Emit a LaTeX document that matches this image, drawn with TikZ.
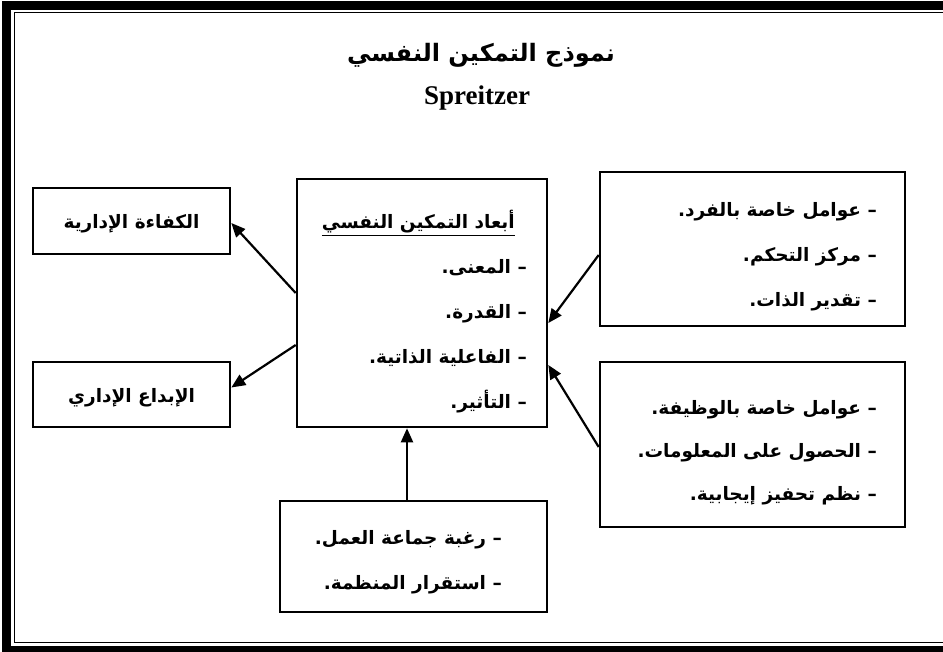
\documentclass[tikz,border=0pt]{standalone}
\usepackage{fontspec}
\usetikzlibrary{arrows.meta}
\TeXXeTstate=1
\newfontfamily\arabicfont[Script=Arabic]{DejaVu Sans}
\newfontfamily\latinserif{Liberation Serif}
\newcommand{\rtl}[1]{\beginR #1\endR}
\newcommand{\lowered}[1]{\raisebox{-3pt}[\height][\depth]{#1}}
\begin{document}
\begin{tikzpicture}[x=1pt,y=-1pt,
  box/.style={draw, line width=2.6pt, inner sep=0pt,
    font=\arabicfont\bfseries\fontsize{18.5}{45}\selectfont},
  list/.style={inner sep=0pt, align=right, anchor=east,
    font=\arabicfont\bfseries\fontsize{18.5}{45}\selectfont},
  link/.style={line width=2.2pt, -{Triangle[length=14pt,width=12pt]}},
]
\useasboundingbox (0,0) rectangle (943,651);
\fill[white] (0,0) rectangle (943,651);
% double frame
\draw[line width=9pt] (6.5,5.5) rectangle (952,650.5);
\draw[line width=1.5pt] (14.5,12.5) rectangle (946,642.5);

% heading
\node[anchor=base] (title) at (481,61) {\arabicfont\bfseries\fontsize{24}{28}\selectfont\rtl{نموذج التمكين النفسي}};
\node[anchor=base] (author) at (477,104) {\latinserif\bfseries\fontsize{27}{30}\selectfont Spreitzer};

% outcomes
\node[box, minimum width=197pt, minimum height=66pt] (kafaa) at (131.5,221) {\lowered{\rtl{الكفاءة الإدارية}}};
\node[box, minimum width=197pt, minimum height=65pt] (ibdaa) at (131.5,394.5) {\lowered{\rtl{الإبداع الإداري}}};

% dimensions of empowerment
\node[box, minimum width=250pt, minimum height=248pt] (dims) at (422,303) {};
\node[list] (dimstext) at (527,312) {%
  \rtl{\underline{\rtl{أبعاد التمكين النفسي}}}\hspace*{12pt}\\
  \rtl{– المعنى.}\\
  \rtl{– القدرة.}\\
  \rtl{– الفاعلية الذاتية.}\\
  \rtl{– التأثير.}};

% antecedents
\node[box, minimum width=305pt, minimum height=154pt] (person) at (752.5,249) {};
\node[list] (persontext) at (877,257) {%
  \rtl{– عوامل خاصة بالفرد.}\\
  \rtl{– مركز التحكم.}\\
  \rtl{– تقدير الذات.}};

\node[box, minimum width=305pt, minimum height=165pt] (job) at (752.5,444.5) {};
\node[list, font=\arabicfont\bfseries\fontsize{18.5}{43}\selectfont] (jobtext) at (877,453) {%
  \rtl{– عوامل خاصة بالوظيفة.}\\
  \rtl{– الحصول على المعلومات.}\\
  \rtl{– نظم تحفيز إيجابية.}};

\node[box, minimum width=267pt, minimum height=111pt] (org) at (413.5,556.5) {};
\node[list] (orgtext) at (502,562) {%
  \rtl{– رغبة جماعة العمل.}\\
  \rtl{– استقرار المنظمة.}};

% connectors
\draw[link] ([yshift=10pt]dims.west) -- ([yshift=-2pt]kafaa.east);
\draw[link] ([yshift=-42pt]dims.west) -- ([yshift=7pt]ibdaa.east);
\draw[link] ([yshift=-6pt]person.west) -- ([yshift=-20pt]dims.east);
\draw[link] ([yshift=-2.5pt]job.west) -- ([yshift=-62pt]dims.east);
\draw[link] ([xshift=-6.5pt]org.north) -- ([xshift=-6.5pt]org.north |- dims.south);
\end{tikzpicture}
\end{document}
